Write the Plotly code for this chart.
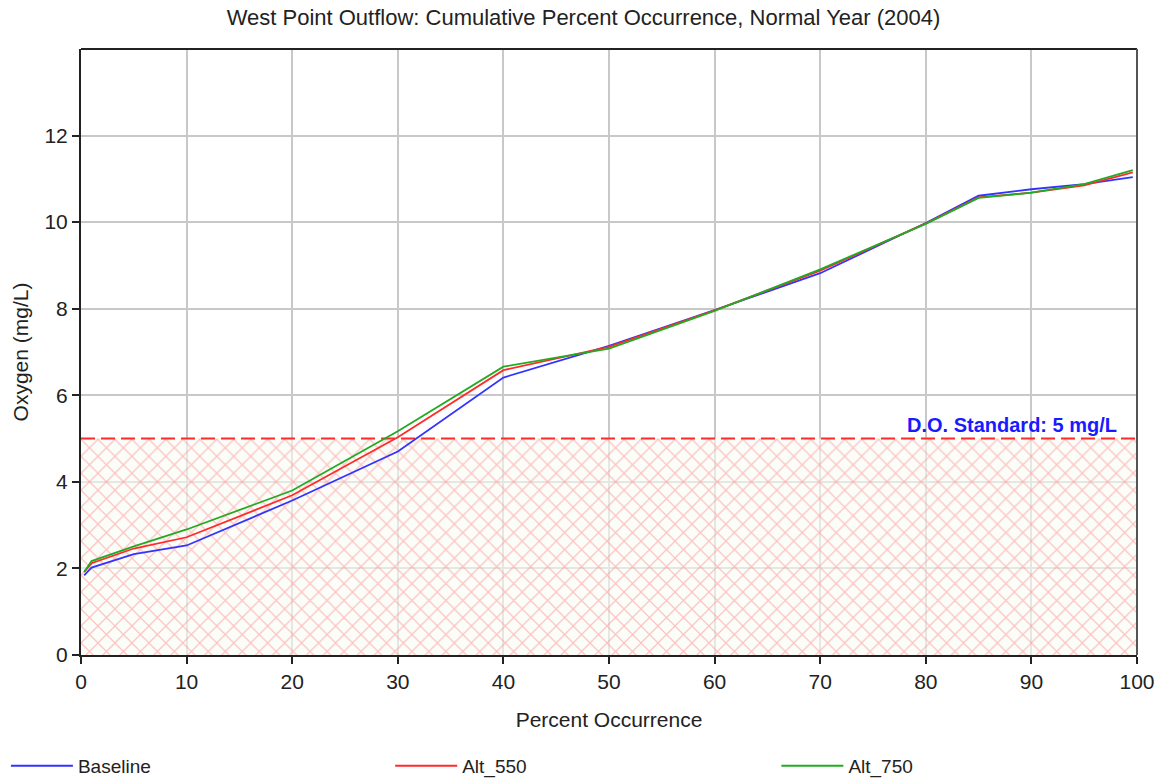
import plotly.graph_objects as go

# Cumulative percent occurrence of dissolved oxygen, West Point outflow, 2004
pct = [0.3, 1, 5, 10, 20, 30, 40, 50, 60, 70, 80, 85, 90, 95, 99.6]
baseline = [1.84, 2.02, 2.33, 2.53, 3.57, 4.70, 6.41, 7.14, 7.97, 8.82, 9.98, 10.61, 10.76, 10.88, 11.04]
alt_550 = [1.92, 2.12, 2.46, 2.72, 3.69, 5.03, 6.58, 7.12, 7.96, 8.88, 9.97, 10.57, 10.68, 10.85, 11.15]
alt_750 = [1.92, 2.17, 2.51, 2.90, 3.80, 5.17, 6.66, 7.08, 7.95, 8.91, 9.96, 10.56, 10.68, 10.88, 11.20]

do_standard = 5
standard_label = "D.O. Standard: 5 mg/L"
x_ticks = list(range(0, 101, 10))
y_ticks = list(range(0, 13, 2))

FONT = "Liberation Sans, Arial, sans-serif"

fig = go.Figure()

# Cross-hatched band below the dissolved oxygen standard
fig.add_trace(go.Scatter(
    x=[0, 100, 100, 0, 0], y=[0, 0, do_standard, do_standard, 0],
    mode="lines", line=dict(width=0), fill="toself",
    fillcolor="rgba(255,255,255,0)",
    fillpattern=dict(shape="x", fgcolor="rgb(255,138,142)",
                     bgcolor="rgba(248,252,244,0.6)", size=12, solidity=0.2),
    hoverinfo="skip", showlegend=False,
))

# Dashed standard line
fig.add_trace(go.Scatter(
    x=[0, 100], y=[do_standard, do_standard], mode="lines",
    line=dict(color="#ff2a2a", width=2, dash="14px,6px"),
    hoverinfo="skip", showlegend=False,
))

# One legend per series so the three entries sit spread across the bottom
series = [("Baseline", baseline, "#3333ff", "legend"),
          ("Alt_550", alt_550, "#ff2a2a", "legend2"),
          ("Alt_750", alt_750, "#22aa22", "legend3")]
for name, vals, color, leg in series:
    fig.add_trace(go.Scatter(x=pct, y=vals, mode="lines", name=name,
                             legend=leg, line=dict(color=color, width=1.8)))

fig.add_annotation(x=98.3, y=do_standard, xref="x", yref="y",
                   text="<b>" + standard_label + "</b>", showarrow=False,
                   xanchor="right", yanchor="bottom", yshift=1,
                   font=dict(family=FONT, size=20, color="#1a1aff"))

legend_style = dict(orientation="h", xanchor="left", y=-0.183, yanchor="middle",
                    itemwidth=62, font=dict(family=FONT, size=19),
                    bgcolor="rgba(0,0,0,0)")

fig.update_layout(
    width=1167, height=782,
    margin=dict(l=81, r=30, t=49, b=127, autoexpand=False),
    paper_bgcolor="white", plot_bgcolor="white",
    font=dict(family=FONT, size=20, color="#222222"),
    title=dict(text="West Point Outflow: Cumulative Percent Occurrence, Normal Year (2004)",
               x=0.5, xanchor="center", y=0.978, yanchor="middle",
               font=dict(family=FONT, size=22, color="#222222")),
    xaxis=dict(range=[0, 100], tickvals=x_ticks, showgrid=True,
               gridcolor="#c8c8c8", gridwidth=1.5, zeroline=False,
               showline=True, linecolor="#222222", linewidth=2, mirror=False,
               ticks="outside", ticklen=7, tickcolor="#222222", tickwidth=2,
               automargin=False,
               title=dict(text="Percent Occurrence", standoff=20,
                          font=dict(family=FONT, size=21)),
               tickfont=dict(family=FONT, size=21)),
    yaxis=dict(range=[0, 14], tickvals=y_ticks, showgrid=True,
               gridcolor="#c8c8c8", gridwidth=1.5, zeroline=False,
               showline=True, linecolor="#222222", linewidth=2,
               ticks="outside", ticklen=7, tickcolor="#222222", tickwidth=2,
               automargin=False,
               title=dict(text="Oxygen (mg/L)", standoff=10,
                          font=dict(family=FONT, size=21)),
               tickfont=dict(family=FONT, size=21)),
    legend=dict(x=-0.0711, **legend_style),
    legend2=dict(x=0.2928, **legend_style),
    legend3=dict(x=0.6585, **legend_style),
    shapes=[
        dict(type="line", xref="paper", yref="paper", x0=0, x1=1, y0=1, y1=1,
             line=dict(color="#222222", width=2)),
        dict(type="line", xref="paper", yref="paper", x0=1, x1=1, y0=0, y1=1,
             line=dict(color="#555555", width=2)),
    ],
)

fig.write_html("out.html")
